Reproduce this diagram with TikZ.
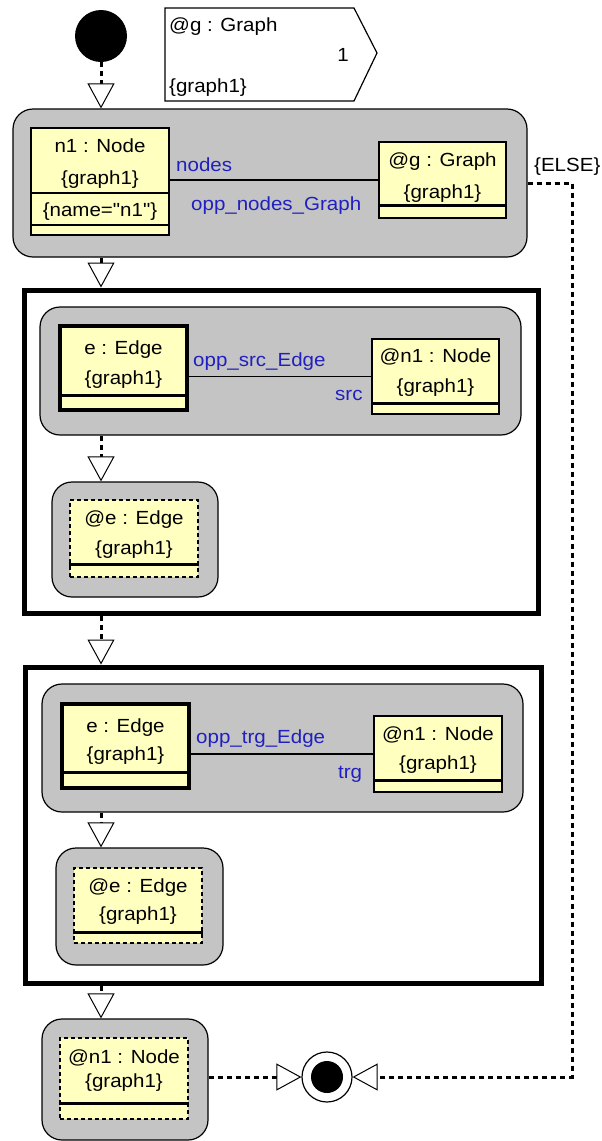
\documentclass[tikz,border=0pt]{standalone}
\usepackage{fontspec}
\setmainfont{Liberation Sans}[FakeStretch=1.08,Ligatures=TeXOff]
\usetikzlibrary{arrows.meta}
\definecolor{actgray}{RGB}{196,196,196}
\definecolor{objyellow}{RGB}{255,255,192}
\definecolor{linkblue}{RGB}{32,32,192}
\tikzset{
  activity/.style={draw,fill=actgray,rounded corners=20pt,line width=1.2pt,inner sep=0pt},
  object/.style={draw,fill=objyellow,line width=1.5pt,inner sep=0pt},
  created/.style={object,line width=4.5pt},
  bound/.style={object,dash pattern=on 4pt off 3pt},
  frame/.style={draw,line width=5pt,inner sep=0pt},
  txt/.style={anchor=base,inner sep=0pt,font=\fontsize{19}{24}\selectfont},
  linktxt/.style={txt,anchor=base west,text=linkblue},
  flow/.style={line width=3pt,dash pattern=on 5pt off 4pt,
    -{Triangle[length=25pt,width=27pt,fill=white,line width=1pt]}}
}
\begin{document}
\begin{tikzpicture}[x=1pt,y=-1pt]
\useasboundingbox (0,0) rectangle (602,1141);
% start and guard
\node[circle,fill=black,minimum size=52pt,inner sep=0pt] (start) at (101,36) {};
\draw[line width=1.2pt] (165,8) -- (354,8) -- (377,53) -- (354,101) -- (165,101) -- cycle;
\node[txt,anchor=base west] (gname) at (169,31) {@g : Graph};
\node[txt,anchor=base east] (gnum) at (349,61) {1};
\node[txt,anchor=base west] (gset) at (169,92) {\{graph1\}};
% first activity
\node[activity,minimum width=514pt,minimum height=148pt] (act1) at (270,183) {};
\node[object,minimum width=138pt,minimum height=107pt] (n1) at (100,181.5) {};
\draw[line width=1.5pt] (n1.west |- 0,193) -- (n1.east |- 0,193);
\draw[line width=1.5pt] (n1.west |- 0,225) -- (n1.east |- 0,225);
\node[txt] (n1name) at (100,152) {n1 : Node};
\node[txt] (n1set) at (100,184) {\{graph1\}};
\node[txt] (n1attr) at (100,216) {\{name="n1"\}};
\node[object,minimum width=127pt,minimum height=76pt] (ga) at (442.5,180) {};
\draw[line width=3pt] (ga.west |- 0,205) -- (ga.east |- 0,205);
\node[txt] (ganame) at (442.5,166) {@g : Graph};
\node[txt] (gaset) at (442.5,198) {\{graph1\}};
\draw[line width=1.2pt] (n1.east |- ga.west) -- (ga.west);
\node[linktxt] (nodeslbl) at (176,171) {nodes};
\node[linktxt] (opplbl) at (191,210) {opp\_nodes\_Graph};
\node[txt,anchor=base west] (elselbl) at (534,171) {\{ELSE\}};
% first loop
\node[frame,minimum width=514pt,minimum height=323pt] (box1) at (281,451.5) {};
\node[activity,minimum width=481pt,minimum height=128pt] (act2) at (280.5,371) {};
\node[created,minimum width=127pt,minimum height=84pt] (e1) at (123.5,368) {};
\draw[line width=3pt] (e1.west |- 0,395) -- (e1.east |- 0,395);
\node[txt] (e1name) at (123.5,354) {e : Edge};
\node[txt] (e1set) at (123.5,384) {\{graph1\}};
\node[object,minimum width=127pt,minimum height=75pt] (n1a) at (435.5,376.5) {};
\draw[line width=3pt] (n1a.west |- 0,403) -- (n1a.east |- 0,403);
\node[txt] (n1aname) at (435.5,362) {@n1 : Node};
\node[txt] (n1aset) at (435.5,392) {\{graph1\}};
\draw[line width=1.2pt] (e1.east |- n1a.west) -- (n1a.west);
\node[linktxt] (srclbl) at (193,366) {opp\_src\_Edge};
\node[linktxt] (srcend) at (335,400) {src};
\node[activity,minimum width=166pt,minimum height=115pt] (act3) at (135,539.5) {};
\node[bound,minimum width=128pt,minimum height=77pt] (e1b) at (134,538.5) {};
\draw[line width=3pt] (e1b.west |- 0,564) -- (e1b.east |- 0,564);
\node[txt] (e1bname) at (134,524) {@e : Edge};
\node[txt] (e1bset) at (134,554) {\{graph1\}};
% second loop
\node[frame,minimum width=516pt,minimum height=316pt] (box2) at (283,825) {};
\node[activity,minimum width=481pt,minimum height=128pt] (act4) at (282.5,748) {};
\node[created,minimum width=127pt,minimum height=84pt] (e2) at (125.5,746) {};
\draw[line width=3pt] (e2.west |- 0,772) -- (e2.east |- 0,772);
\node[txt] (e2name) at (125.5,732) {e : Edge};
\node[txt] (e2set) at (125.5,760) {\{graph1\}};
\node[object,minimum width=128pt,minimum height=76pt] (n1b) at (438,754) {};
\draw[line width=3pt] (n1b.west |- 0,780) -- (n1b.east |- 0,780);
\node[txt] (n1bname) at (438,740) {@n1 : Node};
\node[txt] (n1bset) at (438,769) {\{graph1\}};
\draw[line width=1.2pt] (e2.east |- n1b.west) -- (n1b.west);
\node[linktxt] (trglbl) at (196,743) {opp\_trg\_Edge};
\node[linktxt] (trgend) at (338,778) {trg};
\node[activity,minimum width=167pt,minimum height=117pt] (act5) at (139.5,906.5) {};
\node[bound,minimum width=128pt,minimum height=75pt] (e2b) at (138,905.5) {};
\draw[line width=3pt] (e2b.west |- 0,932) -- (e2b.east |- 0,932);
\node[txt] (e2bname) at (138,892) {@e : Edge};
\node[txt] (e2bset) at (138,920) {\{graph1\}};
% last activity and stop
\node[activity,minimum width=166pt,minimum height=121pt] (act6) at (125,1079.5) {};
\node[bound,minimum width=128pt,minimum height=81pt] (n1c) at (124,1078.5) {};
\draw[line width=3pt] (n1c.west |- 0,1103) -- (n1c.east |- 0,1103);
\node[txt] (n1cname) at (124,1063) {@n1 : Node};
\node[txt] (n1cset) at (124,1087) {\{graph1\}};
\node[circle,draw,line width=1.2pt,fill=white,minimum size=50pt,inner sep=0pt] (final) at (327,1077) {};
\node[circle,fill=black,minimum size=32pt,inner sep=0pt] (finaldot) at (final) {};
% transitions
\draw[flow] (start) -- (start |- act1.north);
\draw[flow] (start |- act1.south) -- (start |- box1.north);
\draw[flow] (start |- act2.south) -- (start |- act3.north);
\draw[flow] (start |- box1.south) -- (start |- box2.north);
\draw[flow] (start |- act4.south) -- (start |- act5.north);
\draw[flow] (start |- box2.south) -- (start |- act6.north);
\draw[flow] (final.west -| act6.east) -- (final.west);
\coordinate (elsecorner) at (572,0);
\draw[flow] (act1.east) -- (act1.east -| elsecorner) |- (final.east);
\end{tikzpicture}
\end{document}
